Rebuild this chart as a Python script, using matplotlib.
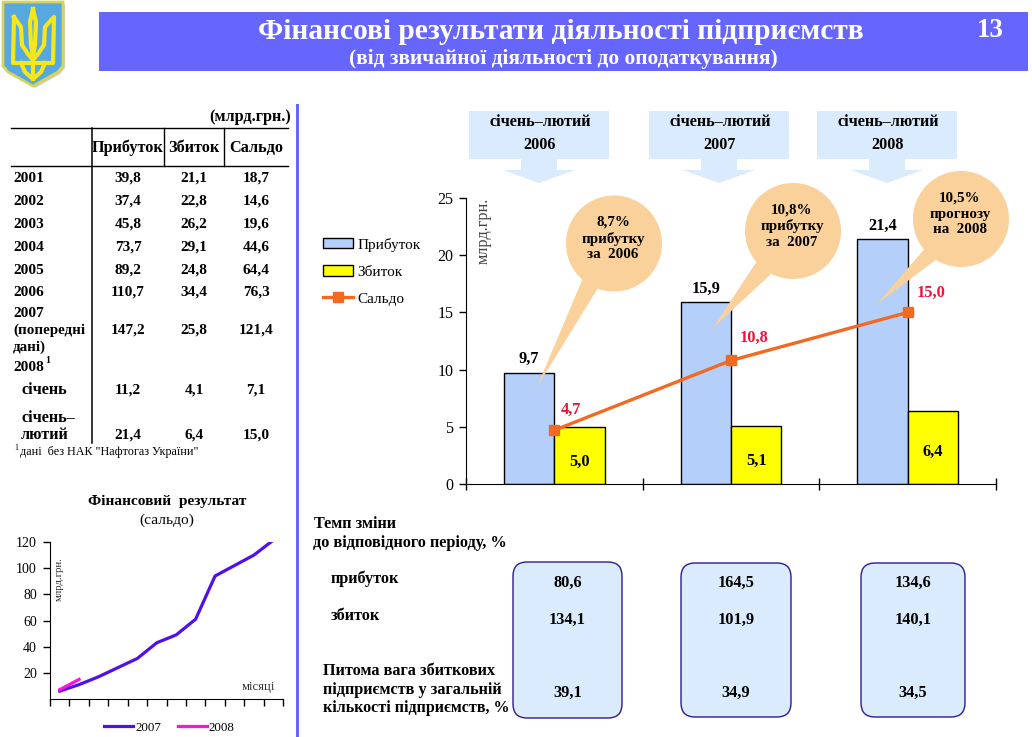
import matplotlib
matplotlib.use('Agg')
import numpy as np
import matplotlib.pyplot as plt
from matplotlib.patches import Polygon, Rectangle, Circle, FancyBboxPatch

plt.rcParams['font.family'] = ['Liberation Serif', 'DejaVu Serif']

W, H = 1032, 737
PX = 0.72  # px to pt at dpi 100
TXT = 16.2  # bold cyrillic runs wide in the original
NUM = 15.4

# main chart
periods = ['2006', '2007', '2008']
series_names = ['Прибуток', 'Збиток', 'Сальдо']
profit = [9.7, 15.9, 21.4]
loss = [5.0, 5.1, 6.4]
saldo = [4.7, 10.8, 15.0]
profit_labels = ['9,7', '15,9', '21,4']
loss_labels = ['5,0', '5,1', '6,4']
saldo_labels = ['4,7', '10,8', '15,0']
bubble_texts = ['8,7%\nприбутку\nза  2006', '10,8%\nприбутку\nза  2007', '10,5%\nпрогнозу\nна  2008']

# small line chart
months = list(range(12))
saldo_2007 = [6, 11, 17, 24, 31, 43, 49, 61, 94, 102, 110, 121.4]
saldo_2008 = [7.1, 15.0]

# table
row_names = ['2001', '2002', '2003', '2004', '2005', '2006']
tbl_profit = ['39,8', '37,4', '45,8', '73,7', '89,2', '110,7']
tbl_loss = ['21,1', '22,8', '26,2', '29,1', '24,8', '34,4']
tbl_saldo = ['18,7', '14,6', '19,6', '44,6', '64,4', '76,3']
row_2007 = ['147,2', '25,8', '121,4']
row_jan = ['11,2', '4,1', '7,1']
row_janfeb = ['21,4', '6,4', '15,0']

# bottom boxes
rate_profit = ['80,6', '164,5', '134,6']
rate_loss = ['134,1', '101,9', '140,1']
share_loss = ['39,1', '34,9', '34,5']

BAND = '#6666ff'
PALE = '#d9ebfc'
PEACH = '#fad19a'


def px_axes(x0, y0, x1, y1):
    # axes placed by pixel box, y counted from the top of the picture
    return fig.add_axes([x0 / W, 1 - y1 / H, (x1 - x0) / W, (y1 - y0) / H])


fig = plt.figure(figsize=(W / 100, H / 100), dpi=100)

# ---- bar chart
ax = px_axes(466, 198, 996, 484)
ax.set_zorder(1)
x = np.arange(3)
w = 0.285
h1 = ax.bar(x - w / 2, profit, w, color='#b3cffa', edgecolor='black', linewidth=1)
h2 = ax.bar(x + w / 2, loss, w, color='#ffff00', edgecolor='black', linewidth=1)
h3, = ax.plot(x, saldo, color='#f26a22', linewidth=2.4, marker='s', markersize=7)
ax.set_xlim(-0.5, 2.5)
ax.set_ylim(0, 25)
ax.set_yticks([0, 5, 10, 15, 20, 25])
ax.set_xticks([-0.5, 0.5, 1.5, 2.5])
ax.set_xticklabels([])
ax.tick_params(axis='x', direction='inout', length=8, width=1)
ax.tick_params(axis='y', direction='out', length=5, width=1, labelsize=11.5, pad=4)
ax.spines['top'].set_visible(False)
ax.spines['right'].set_visible(False)
for i in x:
    ax.text(i - w / 2, profit[i] + 0.5, profit_labels[i], ha='center', va='bottom', fontsize=11.8, fontweight='bold')
    ax.text(i + w / 2, loss[i] / 2 - 0.6 + 0.1 * i, loss_labels[i], ha='center', va='center', fontsize=11.8, fontweight='bold')
    ax.text(i + 0.13 + (0.0 if i else -0.035), saldo[i] + 1.75 + (0.2 if i == 1 else 0), saldo_labels[i], ha='center', va='center',
            fontsize=11.8, fontweight='bold', color='#f0103c')
ax.text(0.033, 1.003, 'млрд.грн.', transform=ax.transAxes, rotation=90, ha='center', va='top', fontsize=11.7, color='#444444')
fig.legend([h1[0], h2[0], h3], series_names, loc='upper left', bbox_to_anchor=(318 / W, 1 - 233 / H), frameon=False,
           fontsize=11, handlelength=1.96, handleheight=0.68, labelspacing=0.88, handletextpad=0.3, borderpad=0.3, borderaxespad=0)

# ---- small line chart
ax2 = px_axes(50, 542, 283, 699)
ax2.set_zorder(1)
ax2.plot(months, saldo_2007, color='#5010ee', linewidth=2.3, label='2007')
ax2.plot(months[:len(saldo_2008)], saldo_2008, color='#ff10e0', linewidth=2.3, label='2008')
ax2.set_xlim(-0.5, 11.5)
ax2.set_ylim(0, 120)
ax2.set_yticks([20, 40, 60, 80, 100, 120])
ax2.set_xticks(np.arange(-0.5, 12))
ax2.set_xticklabels([])
ax2.tick_params(axis='both', direction='out', length=5, width=1)
ax2.tick_params(axis='y', labelsize=10, pad=4.5)
ax2.spines['top'].set_visible(False)
ax2.spines['right'].set_visible(False)
ax2.legend(loc='upper left', bbox_to_anchor=(54 / 233, -0.145), ncol=2, frameon=False, fontsize=9.3,
           handlelength=2.25, columnspacing=1.3, handletextpad=0.15, borderaxespad=0, borderpad=0)

# ---- overlay in picture pixels
ov = fig.add_axes([0, 0, 1, 1], zorder=2)
ov.set_xlim(0, W)
ov.set_ylim(H, 0)
ov.axis('off')
ov.patch.set_alpha(0)


def t(x, y, s, size=TXT, weight='bold', ha='center', va='center', **kw):
    ov.text(x, y + 1, s, fontsize=size * PX, fontweight=weight, ha=ha, va=va, **kw)


# header
ov.add_patch(Rectangle((99, 12), 929, 59, color=BAND, lw=0))
t(561, 30, 'Фінансові результати діяльності підприємств', size=29.5, color='white')
t(563, 58, '(від звичайної діяльності до оподаткування)', size=21.4, color='white')
t(990, 29, '13', size=27, color='white')
ov.add_patch(Rectangle((296, 104), 3, 633, color=BAND, lw=0))

# coat of arms
shield = [(3, 2), (63, 2), (63, 66), (58, 72), (33, 86), (8, 72), (3, 66)]
ov.add_patch(Polygon([(a + 2, b + 2) for a, b in shield], color='#cccccc', lw=0))
ov.add_patch(Polygon(shield, facecolor='#58a8e0', edgecolor='#d8d458', linewidth=2))
trident = [
    [(14, 17), (13, 63), (53, 63), (54, 17), (45, 27), (44, 45), (38, 54), (33, 60), (28, 54), (22, 45), (21, 27), (14, 17)],
    [(33, 9), (30, 22), (31, 45), (33, 56), (35, 45), (36, 22), (33, 9)],
    [(21, 63), (25, 72), (33, 79), (41, 72), (45, 63)],
    [(33, 60), (33, 79)],
]
for part in trident:
    ov.plot([p[0] for p in part], [p[1] for p in part], color='#f6e71a', linewidth=3, solid_joinstyle='round')

# table
t(291, 116, '(млрд.грн.)', ha='right')
for yy in (128, 166):
    ov.plot([11, 288], [yy, yy], color='black', lw=1)
ov.plot([92, 92], [128, 443], color='black', lw=1.1)
ov.plot([164, 164], [128, 166], color='black', lw=1)
ov.plot([224, 224], [128, 166], color='black', lw=1)
t(128, 147, 'Прибуток')
t(194, 147, 'Збиток')
t(256, 147, 'Сальдо')
cols = [128, 194, 256]
row_y = [177, 200, 223, 246, 269, 291]
for i, yy in enumerate(row_y):
    t(13, yy, row_names[i], size=NUM, ha='left')
    for c, v in zip(cols, (tbl_profit[i], tbl_loss[i], tbl_saldo[i])):
        t(c, yy, v, size=NUM)
t(13, 312, '2007', size=NUM, ha='left')
t(13, 329, '(попередні', size=15, ha='left')
t(13, 346, 'дані)', size=15, ha='left')
t(13, 366, '2008', size=NUM, ha='left')
t(45, 359, '1', size=10, ha='left')
t(21, 389, 'січень', ha='left')
t(21, 417, 'січень–', ha='left')
t(21, 434, 'лютий', ha='left')
for c, a, b, d in zip(cols, row_2007, row_jan, row_janfeb):
    t(c, 329, a, size=NUM)
    t(c, 389, b, size=NUM)
    t(c, 434, d, size=NUM)
t(14, 447, '1', size=8, weight='normal', ha='left')
t(20, 451, 'дані  без НАК "Нафтогаз України"', size=12.1, weight='normal', ha='left')

# small chart captions
t(167, 500, 'Фінансовий  результат', size=15.4)
t(167, 519, '(сальдо)', size=15.4, weight='normal')
t(59, 578, 'млрд.грн.', size=10.8, weight='normal', rotation=90, color='#333333')
t(258, 686, 'місяці', size=12.8, weight='normal', color='#333333')

# period arrows
for x0, name in zip((469, 649, 817), periods):
    cx = x0 + 70
    ov.add_patch(Polygon([(x0, 111), (x0 + 140, 111), (x0 + 140, 159), (cx + 18, 159), (cx + 18, 170), (cx + 36, 170),
                          (cx, 183), (cx - 36, 170), (cx - 18, 170), (cx - 18, 159), (x0, 159)], color=PALE, lw=0))
    t(cx + 1, 121, 'січень–лютий')
    t(cx + 0.5, 144, name)

# bubbles
bubbles = [(614, 243.5, [(583, 278), (598, 288), (537, 387)]),
           (793, 231, [(757, 261), (771, 274), (713, 328)]),
           (961, 219, [(927, 246), (937, 259), (877, 304)])]
for (cx, cy, tail), txt in zip(bubbles, bubble_texts):
    ov.add_patch(Circle((cx, cy), 48, color=PEACH, lw=0))
    ov.add_patch(Polygon(tail, color=PEACH, lw=0))
    t(cx - 1, cy - 6, txt, size=15, linespacing=1.28)

# bottom block
t(314, 523, 'Темп зміни', ha='left')
t(313, 542, 'до відповідного періоду, %', ha='left')
t(331, 578, 'прибуток', ha='left')
t(331, 615, 'збиток', ha='left')
t(323, 670, 'Питома вага збиткових', ha='left')
t(323, 689, 'підприємств у загальній', ha='left')
t(323, 707, 'кількості підприємств, %', size=16, ha='left')
boxes = [(513, 562, 622, 718), (681, 563, 791, 717), (861, 563, 965, 717)]
for (x0, y0, x1, y1), a, b, c in zip(boxes, rate_profit, rate_loss, share_loss):
    ov.add_patch(FancyBboxPatch((x0 + 14, y0 + 14), x1 - x0 - 28, y1 - y0 - 28, boxstyle='round,pad=14,rounding_size=14',
                                facecolor=PALE, edgecolor='#2d1a9a', linewidth=1))
    cx = (x0 + x1) / 2
    t(cx, 582, a, size=NUM + 1)
    t(cx, 619, b, size=NUM + 1)
    t(cx, 692, c, size=NUM + 1)

fig.savefig('out.png', dpi=100)
